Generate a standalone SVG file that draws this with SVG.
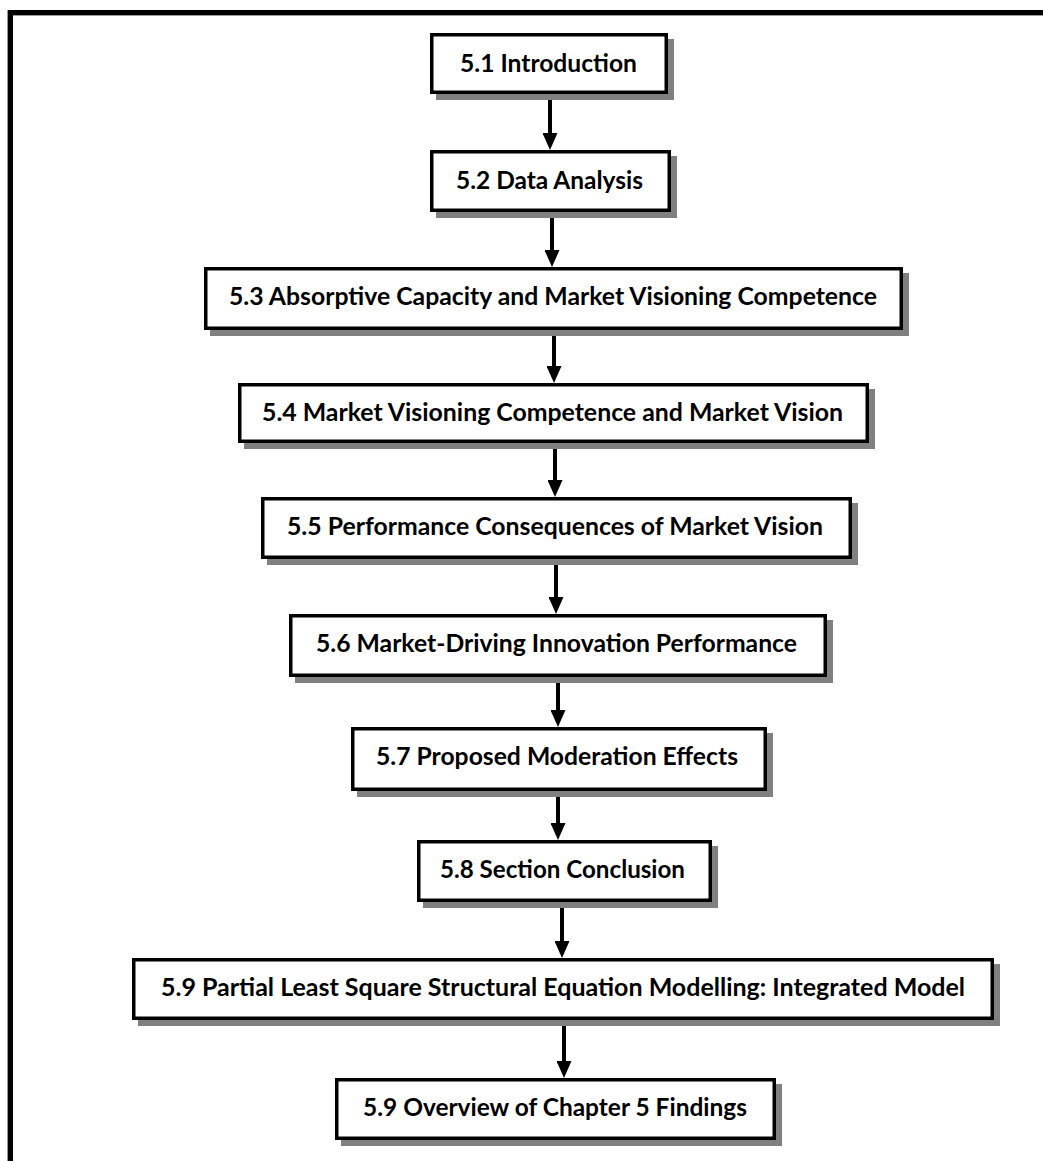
<svg xmlns="http://www.w3.org/2000/svg" width="1043" height="1161" viewBox="0 0 1043 1161">
<defs>
<style>
.shadow{fill:#808080;stroke:none}
.box{fill:#ffffff;stroke:#000000;stroke-width:3.5}
.lbl{font-family:Lato,"Open Sans","Liberation Sans",sans-serif;font-weight:bold;font-size:24.5px;fill:#000000;text-anchor:middle}
.conn{stroke:#000000;stroke-width:4;fill:none;marker-end:url(#ah)}
</style>
<marker id="ah" markerUnits="userSpaceOnUse" markerWidth="17" markerHeight="15" refX="9" refY="7.5" orient="auto">
<path d="M0,0 L17,7.5 L0,15 Z" fill="#000000"/>
</marker>
</defs>
<rect x="0" y="0" width="1043" height="1161" fill="#ffffff"/>
<g id="frame">
<line x1="7.5" y1="10" x2="7.5" y2="1161" stroke="#9a9a9a" stroke-width="1"/>
<line x1="13" y1="15.5" x2="1043" y2="15.5" stroke="#9a9a9a" stroke-width="1"/>
<rect x="10.5" y="12.5" width="1100" height="1200" fill="none" stroke="#000000" stroke-width="5"/>
</g>
<g id="connectors">
<line class="conn" x1="550" y1="94" x2="550" y2="142"/>
<line class="conn" x1="552" y1="212" x2="552" y2="259"/>
<line class="conn" x1="554" y1="330" x2="554" y2="375"/>
<line class="conn" x1="555" y1="443" x2="555" y2="489"/>
<line class="conn" x1="556" y1="559" x2="556" y2="606"/>
<line class="conn" x1="558" y1="677" x2="558" y2="719"/>
<line class="conn" x1="558" y1="791" x2="558" y2="832"/>
<line class="conn" x1="562" y1="902" x2="562" y2="950"/>
<line class="conn" x1="564" y1="1020" x2="564" y2="1070"/>
</g>
<g id="n1">
<rect class="shadow" x="436" y="39" width="238" height="61"/>
<rect class="box" x="431.75" y="34.75" width="234.5" height="57.5"/>
<text class="lbl" x="548.5" y="71.5" textLength="177" lengthAdjust="spacingAndGlyphs">5.1 Introduction</text>
</g>
<g id="n2">
<rect class="shadow" x="436" y="156" width="241" height="62"/>
<rect class="box" x="431.75" y="151.75" width="237.5" height="58.5"/>
<text class="lbl" x="549.5" y="188.5" textLength="187" lengthAdjust="spacingAndGlyphs">5.2 Data Analysis</text>
</g>
<g id="n3">
<rect class="shadow" x="210" y="273" width="699" height="63"/>
<rect class="box" x="205.75" y="268.75" width="695.5" height="59.5"/>
<text class="lbl" x="553" y="305" textLength="648" lengthAdjust="spacingAndGlyphs">5.3 Absorptive Capacity and Market Visioning Competence</text>
</g>
<g id="n4">
<rect class="shadow" x="244" y="389" width="631" height="60"/>
<rect class="box" x="239.75" y="384.75" width="627.5" height="56.5"/>
<text class="lbl" x="552.5" y="421" textLength="581" lengthAdjust="spacingAndGlyphs">5.4 Market Visioning Competence and Market Vision</text>
</g>
<g id="n5">
<rect class="shadow" x="267" y="503" width="591" height="62"/>
<rect class="box" x="262.75" y="498.75" width="587.5" height="58.5"/>
<text class="lbl" x="555" y="535" textLength="536" lengthAdjust="spacingAndGlyphs">5.5 Performance Consequences of Market Vision</text>
</g>
<g id="n6">
<rect class="shadow" x="295" y="620" width="538" height="63"/>
<rect class="box" x="290.75" y="615.75" width="534.5" height="59.5"/>
<text class="lbl" x="556.5" y="652" textLength="481" lengthAdjust="spacingAndGlyphs">5.6 Market-Driving Innovation Performance</text>
</g>
<g id="n7">
<rect class="shadow" x="357" y="733" width="416" height="64"/>
<rect class="box" x="352.75" y="728.75" width="412.5" height="60.5"/>
<text class="lbl" x="557" y="765" textLength="362" lengthAdjust="spacingAndGlyphs">5.7 Proposed Moderation Effects</text>
</g>
<g id="n8">
<rect class="shadow" x="423" y="846" width="295" height="62"/>
<rect class="box" x="418.75" y="841.75" width="291.5" height="58.5"/>
<text class="lbl" x="562.5" y="878" textLength="245" lengthAdjust="spacingAndGlyphs">5.8 Section Conclusion</text>
</g>
<g id="n9">
<rect class="shadow" x="138" y="964" width="862" height="62"/>
<rect class="box" x="133.75" y="959.75" width="858.5" height="58.5"/>
<text class="lbl" x="563" y="996" textLength="804" lengthAdjust="spacingAndGlyphs">5.9 Partial Least Square Structural Equation Modelling: Integrated Model</text>
</g>
<g id="n10">
<rect class="shadow" x="341" y="1084" width="441" height="62"/>
<rect class="box" x="336.75" y="1079.75" width="437.5" height="58.5"/>
<text class="lbl" x="555" y="1116" textLength="384" lengthAdjust="spacingAndGlyphs">5.9 Overview of Chapter 5 Findings</text>
</g>
</svg>
